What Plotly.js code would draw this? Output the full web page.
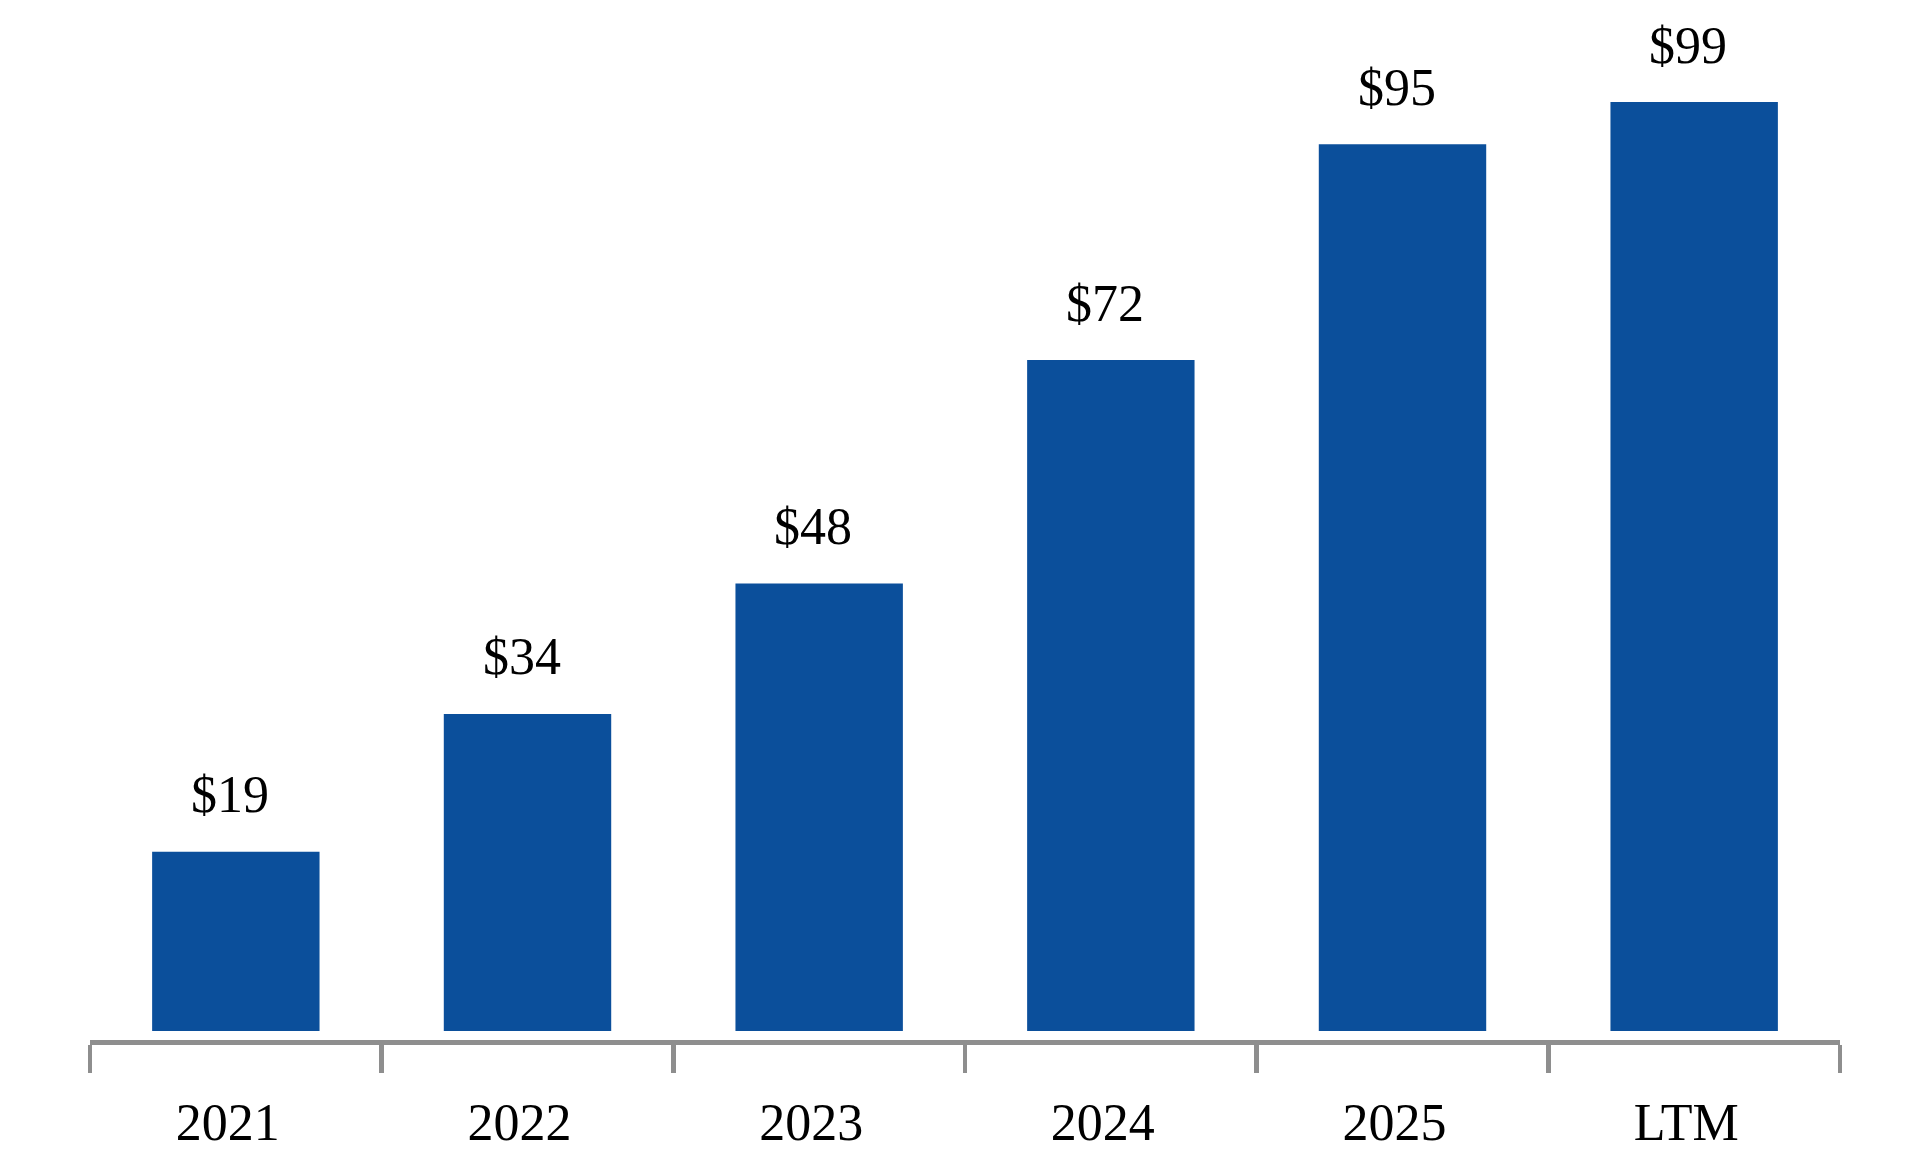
<!DOCTYPE html>
<html>
<head>
<meta charset="utf-8">
<script src="https://cdn.plot.ly/plotly-3.0.1.min.js"></script>
<style>
  html, body { margin: 0; padding: 0; background: #fff; }
  #chart { width: 1926px; height: 1152px; }
</style>
</head>
<body>
<div id="chart"></div>
<script>
// Annual figures, $ — bar chart with value labels above each bar.
const categories = ["2021", "2022", "2023", "2024", "2025", "LTM"];
const values     = [19.1, 33.8, 47.7, 71.5, 94.5, 99.0];
const labels     = ["$19", "$34", "$48", "$72", "$95", "$99"];

const BAR_BLUE = "#0b4f9b";
const AXIS_GREY = "#8e8e8e";
const SERIF = "'Liberation Serif', 'Times New Roman', serif";

// category axis: "2021" would be read as an index, so place labels by position
const annotations = categories.map((c, i) => ({
  x: i, y: values[i], xref: "x", yref: "y",
  text: labels[i], showarrow: false,
  yanchor: "middle", yshift: 57, xshift: -6,
  font: { family: SERIF, size: 52, color: "#000" },
}));

Plotly.newPlot("chart", [
  { type: "bar", x: categories, y: values,
    marker: { color: BAR_BLUE, line: { width: 0 } },
    hoverinfo: "skip" },
], {
  width: 1926, height: 1152,
  margin: { l: 90, r: 86, t: 20, b: 112 },
  paper_bgcolor: "#fff", plot_bgcolor: "#fff",
  showlegend: false,
  bargap: 0.426,
  xaxis: {
    type: "category",
    range: [-0.5, categories.length - 0.5],
    showline: true, linecolor: AXIS_GREY, linewidth: 4.5,
    ticks: "outside", tickson: "boundaries",
    ticklen: 28, tickwidth: 4.5, tickcolor: AXIS_GREY,
    showgrid: false, zeroline: false,
    ticklabelshift: -8, ticklabelstandoff: 33,
    tickfont: { family: SERIF, size: 52, color: "#000" },
  },
  yaxis: {
    range: [-0.95, 107.74],
    visible: false, showgrid: false, zeroline: false,
  },
  annotations,
}, { staticPlot: true });
</script>
</body>
</html>
